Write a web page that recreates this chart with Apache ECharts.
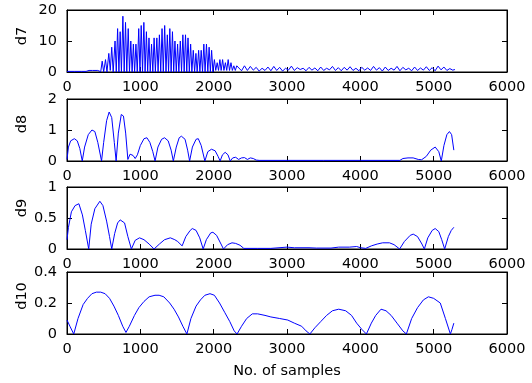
<!DOCTYPE html>
<html>
<head>
<meta charset="utf-8">
<script src="https://cdn.jsdelivr.net/npm/echarts@6/dist/echarts.min.js"></script>
<style>html,body{margin:0;padding:0;background:#fff}#c{width:532px;height:383px}</style>
</head>
<body>
<div id="c"></div>
<script>
var xTicks = [0, 1000, 2000, 3000, 4000, 5000, 6000];
var panelNames = ['d7', 'd8', 'd9', 'd10'];
var yMax = [20, 2, 1, 0.4];
var yStep = [10, 1, 0.5, 0.2];
var xTitle = 'No. of samples';

var d7X = [0,100,200,260,270,300,350,420,440,460,480,500,525,545,570,590,610,630,655,672,690,708,725,742,762,780,798,815,835,852,870,888,905,922,940,958,978,995,1012,1030,1048,1065,1083,1100,1118,1135,1153,1170,1188,1205,1225,1242,1260,1278,1296,1313,1332,1350,1368,1385,1402,1420,1438,1455,1472,1490,1508,1525,1545,1562,1580,1598,1616,1633,1650,1668,1686,1703,1722,1740,1758,1775,1795,1812,1830,1848,1866,1883,1902,1920,1938,1955,1972,1990,2010,2028,2048,2066,2085,2102,2122,2140,2160,2178,2198,2216,2236,2255,2275,2295,2315,2340,2380,2420,2460,2500,2540,2580,2620,2660,2700,2740,2780,2820,2860,2900,2940,2980,3020,3060,3100,3140,3180,3220,3260,3300,3340,3380,3420,3460,3500,3540,3580,3620,3660,3700,3740,3780,3820,3860,3900,3940,3980,4020,4060,4100,4140,4180,4220,4260,4300,4340,4380,4420,4460,4500,4540,4580,4620,4660,4700,4740,4780,4820,4860,4900,4940,4980,5020,5060,5100,5140,5180,5220,5260,5290];
var d7Y = [0.2,0.2,0.2,0.2,0.6,0.5,0.5,0.5,0.6,0.1,3.5,0,4,0,6,0.5,8,0,10,0,14,0,13,0,18,0,16,0,14,0,10,0,9,0,9,0,14,0,15,0,16,0,13,0,11,0,9,0,11,0,11,0,12,0,14,0,15,0,12,0,14,0,13,0,10,0,9,0,10,0,12,0,12,0,11,0,9,0,7,0,6,0,7,0,7,0,9,0,9,0,8,0,7,0,4,0.5,3,0.5,4,0.5,4,0.5,3,0.5,4,0.5,3,0.5,2,0.5,2,1.8,0.4,2,0.5,1.8,0.6,1.5,0.3,1.2,0.5,1.6,0.4,1.8,0.5,1.5,0.3,1.2,0.6,1.9,0.5,1.4,0.8,1.2,0.4,1.5,0.6,1.3,0.4,1.6,0.5,1.2,0.7,1.8,0.5,1.4,0.4,1.5,0.6,1.7,0.5,1.2,0.4,1.5,0.6,1.3,0.5,1.8,0.6,1.4,0.3,1.6,0.5,1.2,0.6,1.8,0.4,1.5,0.7,1.2,0.4,1.6,0.5,1.3,0.6,1.7,0.5,1.4,0.4,1.9,0.7,1.6,0.5,1.1,0.6,0.8];

var d8X = [0,20,50,100,140,175,208,240,290,340,380,420,471,500,540,575,610,645,670,700,740,770,800,830,860,900,930,960,1000,1050,1090,1130,1170,1201,1240,1290,1330,1380,1420,1450,1490,1530,1560,1610,1645,1672,1710,1760,1790,1830,1880,1920,1970,2020,2060,2088,2120,2157,2195,2226,2260,2300,2340,2380,2420,2460,2500,2540,2580,2620,3000,3500,4000,4540,4580,4650,4720,4790,4836,4900,4960,5021,5070,5104,5140,5180,5215,5245,5275];
var d8Y = [0.05,0.45,0.65,0.72,0.65,0.4,0,0.45,0.85,1.0,0.95,0.6,0,0.6,1.3,1.58,1.4,0.6,0,0.9,1.5,1.45,0.9,0.05,0.22,0.18,0.08,0.2,0.5,0.72,0.75,0.6,0.3,0,0.45,0.7,0.75,0.65,0.35,0,0.45,0.75,0.8,0.7,0.35,0,0.45,0.7,0.72,0.5,0,0.3,0.38,0.33,0.15,0,0.2,0.28,0.2,0,0.1,0.12,0.05,0.1,0.11,0.05,0.1,0.08,0.03,0.02,0.02,0.02,0.02,0.02,0.08,0.1,0.1,0.05,0.04,0.15,0.35,0.45,0.3,0,0.5,0.85,0.95,0.85,0.35];

var d9X = [0,20,60,110,162,210,250,296,330,380,448,490,540,580,610,650,690,725,785,830,878,930,989,1050,1120,1187,1260,1330,1409,1470,1510,1570,1620,1680,1709,1760,1810,1857,1900,1960,1990,2040,2100,2134,2190,2250,2300,2360,2411,2600,2780,2800,3000,3100,3300,3400,3600,3705,3850,3950,4005,4074,4150,4230,4305,4397,4460,4536,4600,4680,4721,4780,4840,4873,4920,4980,5021,5070,5110,5150,5200,5240,5275];
var d9Y = [0.15,0.35,0.6,0.7,0.73,0.55,0.3,0,0.4,0.65,0.77,0.7,0.45,0.2,0,0.25,0.42,0.47,0.42,0.2,0,0.14,0.18,0.15,0.08,0,0.08,0.15,0.18,0.15,0.12,0.05,0.2,0.3,0.33,0.3,0.18,0,0.15,0.26,0.27,0.22,0.08,0,0.07,0.1,0.09,0.06,0.01,0.01,0.01,0.03,0.03,0.02,0.02,0.015,0.015,0.03,0.03,0.04,0.02,0.01,0.05,0.08,0.1,0.1,0.07,0,0.12,0.22,0.24,0.2,0.08,0,0.18,0.3,0.33,0.28,0.15,0,0.2,0.3,0.35];

var d10X = [0,40,92,150,220,280,340,400,460,520,580,640,700,760,804,850,920,980,1050,1120,1200,1256,1320,1400,1460,1520,1580,1635,1690,1760,1820,1880,1950,2010,2080,2150,2220,2280,2319,2380,2450,2527,2600,2700,2780,2900,3011,3100,3200,3260,3312,3380,3460,3540,3620,3705,3800,3880,3950,4020,4083,4150,4210,4282,4350,4420,4500,4580,4628,4700,4780,4860,4928,5000,5090,5160,5228,5250,5275];
var d10Y = [0.09,0.05,0,0.1,0.19,0.23,0.26,0.27,0.27,0.26,0.23,0.18,0.12,0.05,0.01,0.05,0.12,0.17,0.21,0.24,0.25,0.25,0.24,0.2,0.16,0.11,0.05,0,0.1,0.18,0.22,0.25,0.26,0.25,0.2,0.14,0.08,0.02,0,0.05,0.1,0.13,0.13,0.12,0.11,0.1,0.09,0.07,0.05,0.02,0,0.04,0.08,0.12,0.15,0.16,0.15,0.12,0.07,0.03,0,0.07,0.12,0.16,0.15,0.12,0.07,0.02,0,0.1,0.17,0.22,0.24,0.23,0.2,0.1,0,0.03,0.07];

var seriesX = [d7X, d8X, d9X, d10X];
var seriesY = [d7Y, d8Y, d9Y, d10Y];

var tops = [10, 99, 187, 272];
var plotH = 62;
var labelY = [36, 124, 208, 296];
var FONT = 'DejaVu Sans';
var FS = 14.5;
function plain(v) { return String(v); }

var grids = [], xAxes = [], yAxes = [], series = [], graphics = [];
for (var i = 0; i < 4; i++) {
  grids.push({left: 67, right: 25, top: tops[i], height: plotH, show: true, borderColor: '#000', borderWidth: 1, backgroundColor: '#fff'});
  var tick = {show: true, inside: true, length: 5, lineStyle: {color: '#000', width: 1}};
  xAxes.push({type: 'value', gridIndex: i, position: 'bottom', min: xTicks[0], max: xTicks[xTicks.length - 1], interval: 1000,
    axisLine: {show: true, onZero: false, lineStyle: {color: '#000', width: 1}}, axisTick: tick, splitLine: {show: false},
    axisLabel: {color: '#000', fontFamily: FONT, fontSize: FS, margin: 8, formatter: plain},
    name: i === 3 ? xTitle : '', nameLocation: 'middle', nameGap: 30, nameTextStyle: {color: '#000', fontFamily: FONT, fontSize: FS}});
  xAxes.push({type: 'value', gridIndex: i, position: 'top', min: xTicks[0], max: xTicks[xTicks.length - 1], interval: 1000,
    axisLine: {show: true, onZero: false, lineStyle: {color: '#000', width: 1}}, axisTick: tick, splitLine: {show: false}, axisLabel: {show: false}});
  yAxes.push({type: 'value', gridIndex: i, position: 'left', min: 0, max: yMax[i], interval: yStep[i],
    axisLine: {show: true, onZero: false, lineStyle: {color: '#000', width: 1}}, axisTick: tick, splitLine: {show: false},
    axisLabel: {color: '#000', fontFamily: FONT, fontSize: FS, margin: 10, formatter: plain}});
  yAxes.push({type: 'value', gridIndex: i, position: 'right', min: 0, max: yMax[i], interval: yStep[i],
    axisLine: {show: true, onZero: false, lineStyle: {color: '#000', width: 1}}, axisTick: tick, splitLine: {show: false}, axisLabel: {show: false}});
  var xs = seriesX[i], ys = seriesY[i];
  series.push({type: 'line', xAxisIndex: 2 * i, yAxisIndex: 2 * i, data: xs.map(function (x, k) { return [x, ys[k]]; }),
    showSymbol: false, symbol: 'none', lineStyle: {color: '#0000ff', width: 1}, animation: false, z: 3});
  graphics.push({type: 'text', x: 22, y: labelY[i], rotation: Math.PI / 2,
    style: {text: panelNames[i], fill: '#000', font: FS + 'px "' + FONT + '"', textAlign: 'center', textVerticalAlign: 'middle'}});
}

var chart = echarts.init(document.getElementById('c'), null, {renderer: 'canvas'});
chart.setOption({animation: false, backgroundColor: '#fff', grid: grids, xAxis: xAxes, yAxis: yAxes, series: series, graphic: graphics});
</script>
</body>
</html>
